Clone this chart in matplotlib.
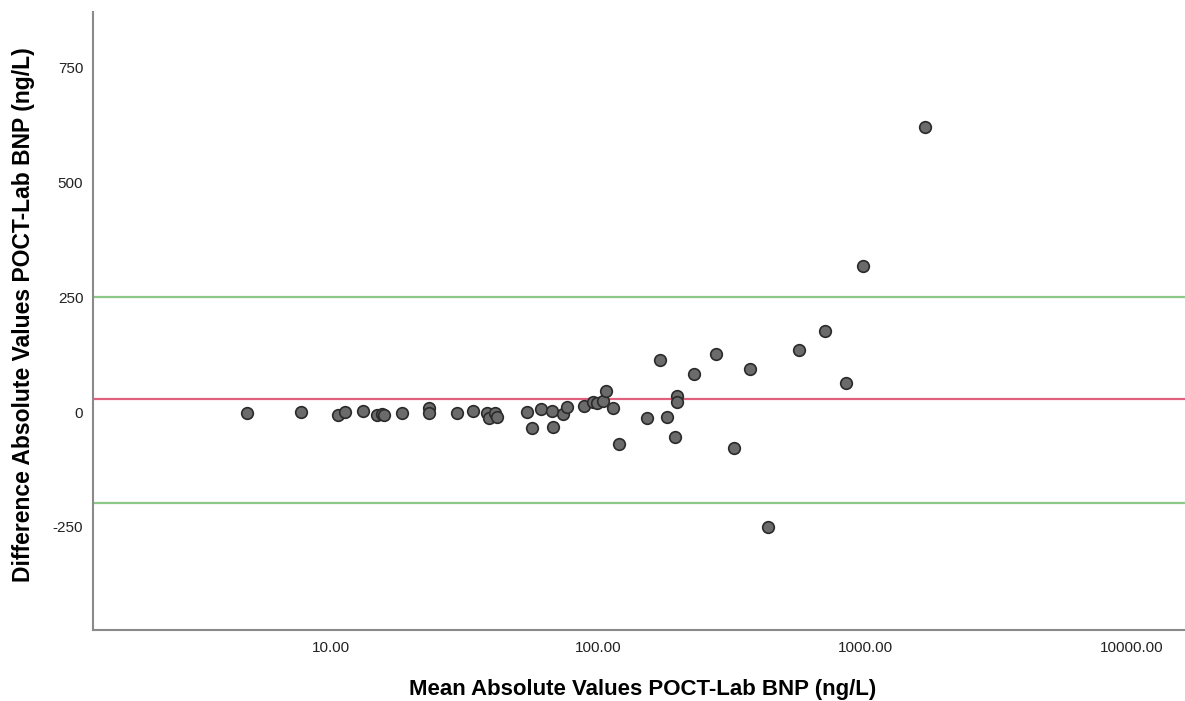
import numpy as np
import matplotlib
matplotlib.use('Agg')
import matplotlib.pyplot as plt
from matplotlib.ticker import FixedLocator, FuncFormatter, NullLocator

plt.rcParams['font.family'] = ['Liberation Sans', 'DejaVu Sans']
plt.rcParams['axes.unicode_minus'] = False

# mean of POCT and lab BNP (ng/L)
mean_bnp = [4.86, 7.70, 10.65, 11.28, 13.21, 14.83, 15.48, 15.79, 18.40, 23.22,
            23.22, 29.57, 33.95, 38.29, 39.16, 41.14, 41.96, 54.08, 56.46, 61.02,
            67.09, 67.67, 74.13, 76.34, 88.62, 96.0, 99.4, 104.7, 106.9, 113.5,
            119.9, 152.2, 171.2, 181.8, 194.3, 197.2, 197.2, 228.9, 276.7, 323.9,
            371.9, 433.3, 565.9, 706.3, 846.6, 980.4, 1682.0]
# difference POCT - lab
diff_bnp = [-2.8, -0.7, -6.5, 0.0, 2.8, -6.5, -5.0, -6.5, -1.5, 8.0,
            -1.5, -1.5, 2.8, -1.5, -13.7, -2.8, -11.5, 0.7, -34.1, 5.9,
            2.8, -32.0, -4.3, 10.2, 13.0, 22.4, 18.9, 24.6, 45.6, 8.0,
            -69.6, -12.4, 112.4, -11.5, -53.6, 35.4, 22.4, 83.3, 125.4, -77.6,
            94.1, -250.0, 134.8, 176.1, 64.0, 318.0, 620.0]

mean_diff = 28.0
upper_loa = 251.0
lower_loa = -198.0

x_ticks = [10, 100, 1000, 10000]
y_ticks = [-250, 0, 250, 500, 750]

fig = plt.figure(figsize=(11.85, 7.01), dpi=100)
ax = fig.add_axes([0.0785, 0.1013, 0.9215, 0.8816])

ax.axhline(upper_loa, color='#8cc888', lw=1.6, zorder=1)
ax.axhline(lower_loa, color='#8cc888', lw=1.6, zorder=1)
ax.axhline(mean_diff, color='#e0607e', lw=1.6, zorder=1)

ax.scatter(mean_bnp, diff_bnp, s=70, c='#6b6b6b', edgecolors='#2a2a2a',
           linewidths=1.2, zorder=3)

ax.set_xscale('log')
ax.set_xlim(1.285, 15790)
ax.set_ylim(-474, 870)

ax.xaxis.set_major_locator(FixedLocator(x_ticks))
ax.xaxis.set_minor_locator(NullLocator())
ax.xaxis.set_major_formatter(FuncFormatter(lambda v, p: f'{v:.2f}'))
ax.yaxis.set_major_locator(FixedLocator(y_ticks))
ax.tick_params(axis='both', length=0, labelsize=11, colors='#222222')
ax.tick_params(axis='x', pad=8)
ax.tick_params(axis='y', pad=7)

for s in ['top', 'right']:
    ax.spines[s].set_visible(False)
for s in ['left', 'bottom']:
    ax.spines[s].set_color('#8a8a8a')
    ax.spines[s].set_linewidth(1.5)

ax.set_xlabel('Mean Absolute Values POCT-Lab BNP (ng/L)', fontsize=16,
              fontweight='bold', va='center')
ax.set_ylabel('Difference Absolute Values POCT-Lab BNP (ng/L)', fontsize=16.5,
              fontweight='bold', va='center')
ax.xaxis.set_label_coords(0.503, -0.097)
ax.yaxis.set_label_coords(-0.064, 0.51)

fig.savefig('out.png', dpi=100)
